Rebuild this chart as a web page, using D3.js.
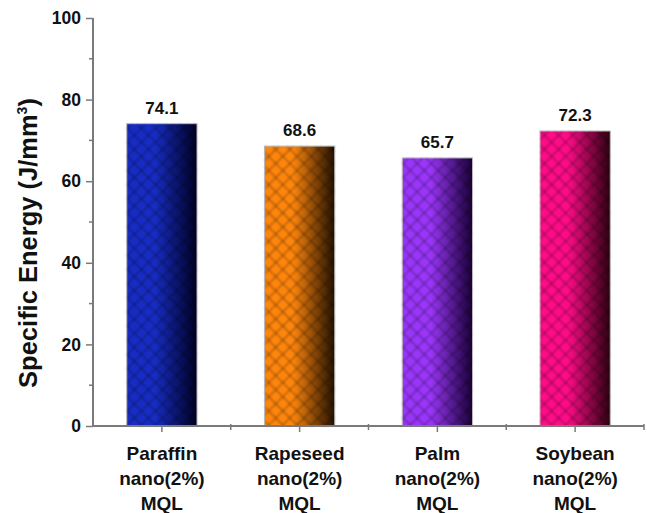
<!DOCTYPE html>
<html>
<head>
<meta charset="utf-8">
<script src="https://cdn.jsdelivr.net/npm/d3@7"></script>
<style>
  html, body { margin: 0; padding: 0; background: #fff; }
  svg { display: block; font-family: Arial, "Liberation Sans", sans-serif; }
</style>
</head>
<body>
<svg id="chart" width="647" height="513"></svg>
<script>
// Specific energy per lubricant condition
const categories = ["Paraffin", "Rapeseed", "Palm", "Soybean"];
const labelLines = [
  ["Paraffin", "nano(2%)", "MQL"],
  ["Rapeseed", "nano(2%)", "MQL"],
  ["Palm", "nano(2%)", "MQL"],
  ["Soybean", "nano(2%)", "MQL"]
];
const values = [74.1, 68.6, 65.7, 72.3];
const yTicks = [0, 20, 40, 60, 80, 100];
const yMinorTicks = [10, 30, 50, 70, 90];
const barColors = [
  ["#172cc4", "#000022"],
  ["#ff860c", "#221000"],
  ["#9a36fa", "#1a0038"],
  ["#ff0c88", "#2c0010"]
];

const svg = d3.select("#chart");
const x0 = 93, x1 = 644, yTop = 18, yBottom = 426;

const x = d3.scaleBand().domain(categories).range([x0, x1]).paddingInner(0.49).paddingOuter(0.245);
const xc = d3.scaleBand().domain(categories).range([x0, x1]);
const y = d3.scaleLinear().domain([0, 100]).range([yBottom, yTop]);

const defs = svg.append("defs");

// Shading across each bar, light face to dark edge
barColors.forEach((c, i) => {
  const g = defs.append("linearGradient").attr("id", "grad" + i)
    .attr("x1", "0%").attr("x2", "100%").attr("y1", "0%").attr("y2", "0%");
  g.append("stop").attr("offset", "0%").attr("stop-color", c[0]);
  g.append("stop").attr("offset", "40%").attr("stop-color", c[0]);
  g.append("stop").attr("offset", "100%").attr("stop-color", c[1]);
});

// Diagonal crosshatch overlay
const hatch = defs.append("pattern").attr("id", "hatch")
  .attr("patternUnits", "userSpaceOnUse").attr("width", 10).attr("height", 10)
  .attr("patternTransform", "rotate(45)");
hatch.append("line").attr("x1", 0).attr("y1", 0).attr("x2", 0).attr("y2", 10)
  .attr("stroke", "#000").attr("stroke-opacity", 0.4).attr("stroke-width", 2.2);
hatch.append("line").attr("x1", 0).attr("y1", 0).attr("x2", 10).attr("y2", 0)
  .attr("stroke", "#000").attr("stroke-opacity", 0.4).attr("stroke-width", 2.2);
const soft = defs.append("filter").attr("id", "soft");
soft.append("feGaussianBlur").attr("stdDeviation", 0.9);

// Bars
const bars = svg.append("g");
categories.forEach((cat, i) => {
  const bx = x(cat), bw = x.bandwidth(), by = y(values[i]), bh = y(0) - y(values[i]);
  bars.append("rect").attr("x", bx).attr("y", by).attr("width", bw).attr("height", bh)
    .attr("fill", `url(#grad${i})`);
  bars.append("rect").attr("x", bx).attr("y", by).attr("width", bw).attr("height", bh)
    .attr("fill", "url(#hatch)").attr("filter", "url(#soft)");
  bars.append("rect").attr("x", bx).attr("y", by).attr("width", bw).attr("height", bh)
    .attr("fill", "none").attr("stroke", "#b8b8b8").attr("stroke-width", 1);
});

// Value labels
svg.append("g").selectAll("text").data(values).join("text")
  .attr("x", (d, i) => x(categories[i]) + x.bandwidth() / 2)
  .attr("y", d => y(d) - 10)
  .attr("text-anchor", "middle")
  .attr("font-size", 17).attr("font-weight", "bold").attr("fill", "#111")
  .text(d => d.toFixed(1));

// Y axis
const axisColor = "#7a7a7a";
const yAxis = svg.append("g").attr("transform", `translate(${x0},0)`)
  .call(d3.axisLeft(y).tickValues(yTicks).tickSize(7).tickPadding(5));
yAxis.select(".domain").attr("stroke", axisColor).attr("stroke-width", 2)
  .attr("d", `M0,${yTop}V${yBottom}`);
yAxis.selectAll(".tick line").attr("stroke", axisColor).attr("stroke-width", 1.5);
yAxis.selectAll(".tick text").attr("font-size", 17.5).attr("font-weight", "bold")
  .attr("fill", "#111").attr("font-family", "Arial, 'Liberation Sans', sans-serif");
svg.append("g").selectAll("line").data(yMinorTicks).join("line")
  .attr("x1", x0 - 4).attr("x2", x0).attr("y1", d => y(d)).attr("y2", d => y(d))
  .attr("stroke", axisColor).attr("stroke-width", 1.5);

// X axis
const xAxis = svg.append("g").attr("transform", `translate(0,${yBottom})`)
  .call(d3.axisBottom(xc).tickSize(6).tickFormat(""));
xAxis.select(".domain").attr("stroke", axisColor).attr("stroke-width", 2)
  .attr("d", `M${x0},0H${x1}`);
xAxis.selectAll(".tick line").attr("stroke", axisColor).attr("stroke-width", 1.5);
svg.append("g").selectAll("line").data(categories).join("line")
  .attr("x1", d => xc(d) + xc.bandwidth()).attr("x2", d => xc(d) + xc.bandwidth())
  .attr("y1", yBottom - 2).attr("y2", yBottom + 4)
  .attr("stroke", axisColor).attr("stroke-width", 1.5);

// Category labels
const lab = svg.append("g").selectAll("text").data(labelLines).join("text")
  .attr("text-anchor", "middle").attr("font-size", 19).attr("font-weight", "bold").attr("fill", "#111");
lab.each(function (lines, i) {
  const cx = xc(categories[i]) + xc.bandwidth() / 2;
  d3.select(this).selectAll("tspan").data(lines).join("tspan")
    .attr("x", cx).attr("y", (d, j) => 460 + j * 25).text(d => d);
});

// Y axis title
svg.append("text")
  .attr("transform", `translate(37,243) rotate(-90)`)
  .attr("text-anchor", "middle").attr("font-size", 25.5).attr("font-weight", "bold").attr("fill", "#111")
  .html('Specific Energy (J/mm<tspan dy="-10" font-size="14">3</tspan><tspan dy="10">)</tspan>');
</script>
</body>
</html>
